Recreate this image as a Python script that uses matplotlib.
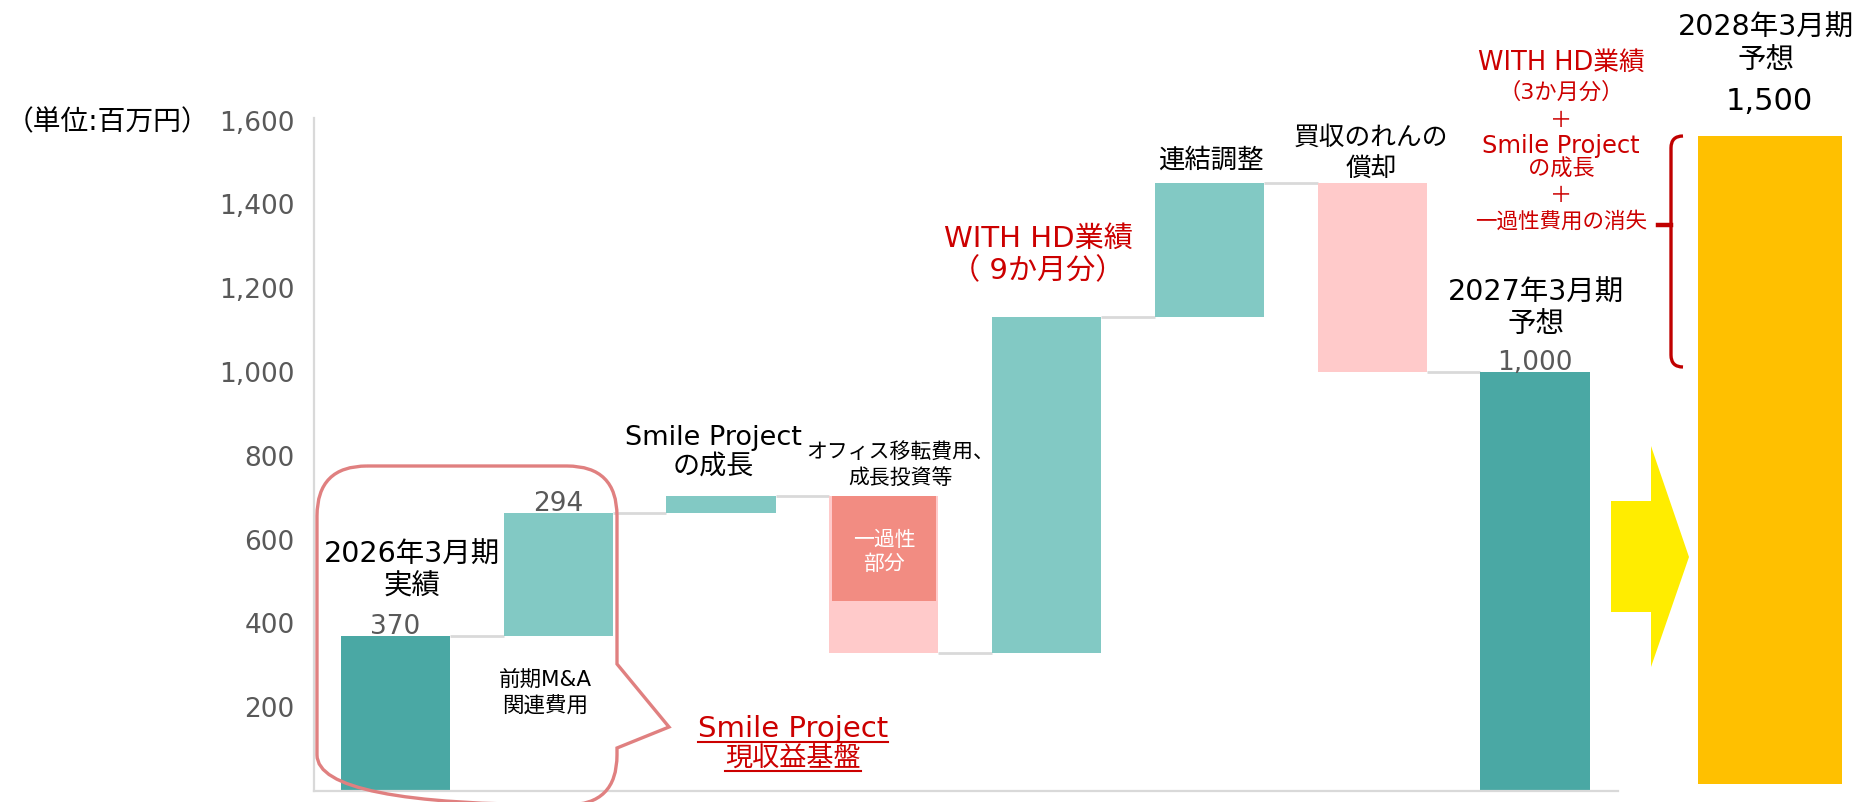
import matplotlib
matplotlib.use("Agg")
import matplotlib.pyplot as plt
import matplotlib.transforms as mtransforms
from matplotlib.path import Path
from matplotlib.patches import PathPatch, Polygon
from matplotlib.lines import Line2D

plt.rcParams['font.family'] = ['DejaVu Sans', 'Noto Sans CJK JP']

# waterfall data (million yen)
steps = [370, 294, 40, -375, 803, 318, -450, 1000]
kinds = ['total', 'up', 'up', 'down', 'up', 'up', 'down', 'total']
one_time = 250          # one-off part of the office move / growth investment
value_labels = {0: '370', 1: '294', 7: '1,000'}
forecast_2028 = 1500
yticks = [200, 400, 600, 800, 1000, 1200, 1400, 1600]

dark_teal = '#4aa8a4'
light_teal = '#82c9c4'
pink = '#ffcaca'
salmon = '#f28c82'
red = '#cc0000'
gray = '#595959'
line_gray = '#d9d9d9'

W, H = 1858, 802
fig = plt.figure(figsize=(W / 100, H / 100), dpi=100)
# pixel coords of the picture, origin top-left (for annotations)
px = mtransforms.Affine2D().scale(1 / W, -1 / H).translate(0, 1) + fig.transFigure

ax = fig.add_axes([314 / W, 1 - 791 / H, (1618 - 314) / W, (791 - 118) / H])
bw = 0.671

# compute bars
bottoms, heights, colors = [], [], []
running = 0
levels = []
for s, k in zip(steps, kinds):
    if k == 'total':
        bottoms.append(0)
        heights.append(s)
        colors.append(dark_teal)
        running = s
    elif k == 'up':
        bottoms.append(running)
        heights.append(s)
        colors.append(light_teal)
        running += s
    else:
        bottoms.append(running + s)
        heights.append(-s)
        colors.append(pink)
        running += s
    levels.append(running)

xs = list(range(len(steps)))
ax.bar(xs, heights, bottom=bottoms, width=bw, color=colors, zorder=2)

# one-off part inside the office move bar
top4 = bottoms[3] + heights[3]
ax.bar(3, one_time, bottom=top4 - one_time, width=0.64, color=salmon, zorder=3)

# connectors
for i in range(len(steps) - 1):
    ax.plot([i + bw / 2, i + 1 - bw / 2], [levels[i], levels[i]],
            color=line_gray, lw=2, zorder=1, solid_capstyle='butt')

for i, t in value_labels.items():
    ax.annotate(t, (i, bottoms[i] + heights[i]), xytext=(0, 6.5),
                textcoords='offset points', ha='center', va='center',
                fontsize=19, color=gray)

ax.set_xlim(-0.5, 7.51)
ax.set_ylim(0, (791 - 118) / 0.419)
ax.set_yticks(yticks)
ax.set_yticklabels([f'{v:,}' for v in yticks])
ax.tick_params(axis='y', length=0, pad=14, labelsize=19, labelcolor=gray)
ax.set_xticks([])
for sp in ['top', 'right']:
    ax.spines[sp].set_visible(False)
for sp in ['left', 'bottom']:
    ax.spines[sp].set_color(line_gray)
    ax.spines[sp].set_linewidth(1.6)

# 2028 forecast bar on its own scale
ax2 = fig.add_axes([1698 / W, 1 - 784 / H, 144 / W, (784 - 136) / H])
ax2.bar(0, forecast_2028, width=1.0, color='#ffc000')
ax2.set_xlim(-0.5, 0.5)
ax2.set_ylim(0, forecast_2028)
ax2.axis('off')


def lines(x, ys, texts, sizes, color='black', ha='center'):
    if not isinstance(sizes, list):
        sizes = [sizes] * len(texts)
    out = []
    for y, t, s in zip(ys, texts, sizes):
        out.append(fig.text(x, y, t, transform=px, ha=ha, va='center',
                            fontsize=s, color=color))
    return out


lines(6, [122], ['（単位:百万円）'], 20, ha='left')
lines(412, [555, 587], ['2026年3月期', '実績'], 20.5)
lines(545, [681, 707], ['前期M&A', '関連費用'], 15.5)
lines(713, [438, 467], ['Smile Project', 'の成長'], 19.5)
lines(900, [452, 478], ['オフィス移転費用、', '成長投資等'], 15)
lines(884, [540, 564], ['一過性', '部分'], 15, color='white')
lines(1038, [239, 271], ['WITH HD業績', '（ 9か月分）'], 21, color=red)
lines(1211, [161], ['連結調整'], 19)
lines(1371, [138, 170], ['買収のれんの', '償却'], 18.5)
lines(1536, [293, 324], ['2027年3月期', '予想'], 20.5)
lines(1766, [28, 60], ['2028年3月期', '予想'], 20.5)
lines(1769, [102], [f'{forecast_2028:,}'], 22)
lines(1561, [63, 92, 121, 146, 169, 196, 221],
      ['WITH HD業績', '（3か月分）', '＋', 'Smile Project', 'の成長', '＋',
       '一過性費用の消失'], [18.5, 16, 16, 17.4, 16, 16, 15.5], color=red)
base_txt = lines(793, [729, 759], ['Smile Project', '現収益基盤'], [21, 19.5], color=red)

# speech bubble
L, R, T, B, r = 317, 617, 466, 805, 50
verts = [(L + r, T), (R - r, T), (R, T), (R, T + r), (R, 664), (669, 727),
         (R, 748), (R, B - r), (R, B), (R - r, B), (L + r, B), (L, B),
         (L, B - r), (L, T + r), (L, T), (L + r, T)]
codes = [Path.MOVETO, Path.LINETO, Path.CURVE3, Path.CURVE3, Path.LINETO,
         Path.LINETO, Path.LINETO, Path.LINETO, Path.CURVE3, Path.CURVE3,
         Path.LINETO, Path.CURVE3, Path.CURVE3, Path.LINETO, Path.CURVE3,
         Path.CURVE3]
fig.add_artist(PathPatch(Path(verts, codes), transform=px, fill=False,
                         edgecolor='#e08080', lw=2.4))

# yellow arrow
fig.add_artist(Polygon([(1611, 501), (1651, 501), (1651, 446), (1689, 557),
                        (1651, 667), (1651, 612), (1611, 612)],
                       transform=px, closed=True, color='#ffed00', lw=0))

# bracket
bv = [(1683, 136), (1671, 136), (1671, 148), (1671, 355), (1671, 367), (1683, 367)]
bc = [Path.MOVETO, Path.CURVE3, Path.CURVE3, Path.LINETO, Path.CURVE3, Path.CURVE3]
fig.add_artist(PathPatch(Path(bv, bc), transform=px, fill=False,
                         edgecolor='#c00000', lw=2.4))
fig.add_artist(Line2D([1658, 1671], [225, 225], transform=px,
                      color='#c00000', lw=3.2))

# underline for the red base label
fig.canvas.draw()
rend = fig.canvas.get_renderer()
for t in base_txt:
    bb = t.get_window_extent(rend)
    y = bb.y0 + 1
    fig.add_artist(Line2D([bb.x0 / W, bb.x1 / W], [y / H, y / H],
                          transform=fig.transFigure, color=red, lw=1.5))

fig.savefig('out.png', dpi=100)
